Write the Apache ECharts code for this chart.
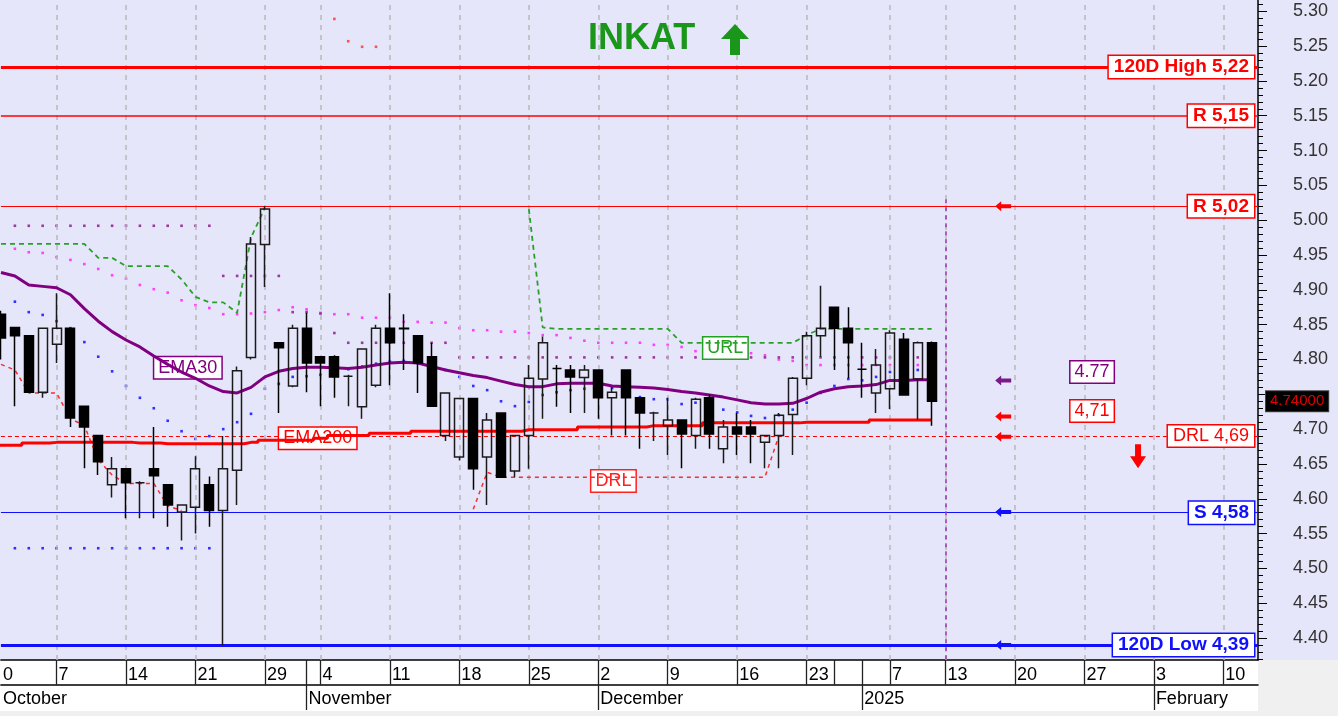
<!DOCTYPE html>
<html><head><meta charset="utf-8">
<script src="https://cdn.jsdelivr.net/npm/echarts@6/dist/echarts.min.js"></script>
<style>html,body{margin:0;padding:0;background:#f0f0f0}#c{width:1338px;height:716px}</style>
</head><body><div id="c"></div>
<script>
// ---------- DATA ----------
// trading-day slots (index 0 = 2024-09-30)
const days = ['2024-09-30','2024-10-01','2024-10-02','2024-10-03','2024-10-04',
'2024-10-07','2024-10-08','2024-10-09','2024-10-10','2024-10-11',
'2024-10-14','2024-10-15','2024-10-16','2024-10-17','2024-10-18',
'2024-10-21','2024-10-22','2024-10-23','2024-10-24','2024-10-25',
'2024-10-29','2024-10-30','2024-10-31','2024-11-01',
'2024-11-04','2024-11-05','2024-11-06','2024-11-07','2024-11-08',
'2024-11-11','2024-11-12','2024-11-13','2024-11-14','2024-11-15',
'2024-11-18','2024-11-19','2024-11-20','2024-11-21','2024-11-22',
'2024-11-25','2024-11-26','2024-11-27','2024-11-28','2024-11-29',
'2024-12-02','2024-12-03','2024-12-04','2024-12-05','2024-12-06',
'2024-12-09','2024-12-10','2024-12-11','2024-12-12','2024-12-13',
'2024-12-16','2024-12-17','2024-12-18','2024-12-19','2024-12-20',
'2024-12-23','2024-12-27','2024-12-30','2024-12-31',
'2025-01-02','2025-01-03',
'2025-01-07','2025-01-08','2025-01-09','2025-01-10',
'2025-01-13','2025-01-14','2025-01-15','2025-01-16','2025-01-17',
'2025-01-20','2025-01-21','2025-01-22','2025-01-23','2025-01-24',
'2025-01-27','2025-01-28','2025-01-29','2025-01-30','2025-01-31',
'2025-02-03','2025-02-04','2025-02-05','2025-02-06','2025-02-07',
'2025-02-10','2025-02-11','2025-02-12'];

// [open, high, low, close]
const candles = [null,
[4.865,4.870,4.800,4.831],[4.846,4.846,4.733,4.834],[4.834,4.834,4.753,4.753],[4.753,4.845,4.745,4.845],
[4.822,4.895,4.795,4.845],[4.845,4.845,4.703,4.716],[4.733,4.733,4.644,4.703],[4.691,4.691,4.634,4.653],[4.620,4.660,4.602,4.643],
[4.643,4.643,4.572,4.623],[4.623,4.625,4.572,4.623],[4.643,4.703,4.572,4.633],[4.620,4.620,4.560,4.591],[4.581,4.591,4.540,4.591],
[4.588,4.661,4.550,4.643],[4.620,4.632,4.560,4.583],[4.583,4.690,4.390,4.643],[4.641,4.790,4.591,4.784],[4.803,4.976,4.800,4.966],
[4.965,5.020,4.904,5.016],[4.824,4.824,4.723,4.817],[4.762,4.850,4.760,4.845],[4.845,4.867,4.753,4.795],
[4.804,4.804,4.733,4.795],[4.804,4.806,4.745,4.775],[4.776,4.778,4.733,4.776],[4.732,4.815,4.715,4.815],[4.763,4.850,4.760,4.845],
[4.845,4.895,4.763,4.824],[4.845,4.865,4.785,4.844],[4.834,4.834,4.752,4.795],[4.804,4.824,4.733,4.733],[4.691,4.752,4.683,4.752],
[4.660,4.745,4.655,4.744],[4.744,4.745,4.613,4.643],[4.660,4.723,4.591,4.713],[4.723,4.723,4.631,4.631],[4.640,4.691,4.631,4.691],
[4.691,4.792,4.643,4.773],[4.772,4.833,4.715,4.824],[4.787,4.792,4.732,4.787],[4.785,4.792,4.723,4.775],[4.774,4.792,4.723,4.785],
[4.785,4.785,4.715,4.745],[4.745,4.760,4.691,4.753],[4.785,4.785,4.691,4.745],[4.745,4.745,4.672,4.723],[4.723,4.725,4.683,4.723],
[4.705,4.745,4.663,4.713],[4.713,4.713,4.644,4.693],[4.691,4.745,4.672,4.743],[4.745,4.750,4.672,4.693],[4.672,4.713,4.651,4.703],
[4.703,4.723,4.663,4.693],[4.703,4.713,4.651,4.693],[4.681,4.691,4.644,4.691],[4.691,4.723,4.644,4.720],[4.721,4.775,4.663,4.773],
[4.773,4.840,4.763,4.834],[4.834,4.906,4.804,4.845],[4.875,4.875,4.785,4.845],[4.845,4.875,4.773,4.824],
[4.786,4.824,4.745,4.786],[4.752,4.815,4.723,4.792],
[4.758,4.842,4.729,4.838],[4.829,4.838,4.749,4.749],[4.772,4.826,4.714,4.824],[4.824,4.826,4.705,4.740]];

const ema30 = [null,4.925,4.920,4.907,4.905,4.903,4.893,4.873,4.855,4.840,4.828,
4.818,4.805,4.793,4.782,4.773,4.762,4.754,4.752,4.760,4.775,
4.783,4.787,4.789,4.789,4.788,4.787,4.789,4.792,4.795,4.796,
4.795,4.790,4.785,4.781,4.777,4.774,4.769,4.764,4.761,4.761,
4.765,4.766,4.766,4.766,4.762,4.761,4.760,4.759,4.757,4.754,
4.752,4.749,4.746,4.742,4.738,4.736,4.736,4.737,4.744,4.753,
4.758,4.761,4.762,4.764,4.770,4.770,4.771,4.771];

const ema200 = [null,4.677,4.677,4.680,4.680,4.681,4.681,4.681,4.681,4.681,4.681,
4.680,4.680,4.679,4.679,4.679,4.679,4.679,4.679,4.681,4.684,
4.684,4.684,4.684,4.687,4.691,4.691,4.691,4.694,4.694,4.694,
4.697,4.697,4.697,4.697,4.697,4.697,4.697,4.697,4.699,4.699,
4.699,4.699,4.703,4.703,4.703,4.703,4.703,4.705,4.705,4.705,
4.705,4.709,4.709,4.709,4.709,4.709,4.709,4.709,4.710,4.710,
4.710,4.710,4.710,4.713,4.713,4.713,4.713,4.713];

const urlLine = [null,4.966,4.966,4.966,4.966,4.966,4.966,4.966,4.946,4.946,4.934,
4.934,4.934,4.934,4.915,4.890,4.882,4.882,4.867,4.975,5.018,
null,null,null,null,null,null,null,null,null,null,
null,null,null,null,null,null,null,null,5.016,4.846,
4.844,4.844,4.844,4.844,4.844,4.844,4.844,4.844,4.844,4.824,
4.824,4.824,4.824,4.824,4.824,4.824,4.824,4.824,4.835,4.844,
4.844,4.844,4.844,4.844,4.844,4.844,4.844,4.844];

const drlLine = [null,4.793,4.785,4.752,4.752,4.752,4.715,4.705,4.656,4.634,4.622,
4.622,4.622,4.590,4.583,null,null,null,null,null,null,
null,null,null,null,null,null,null,null,null,null,
null,null,null,null,4.585,4.638,4.631,4.631,4.631,4.631,
4.631,4.631,4.631,4.631,4.631,4.631,4.631,4.631,4.631,4.631,
4.631,4.631,4.631,4.631,4.631,4.631,4.690];

const pinkDots = [null,null,4.959,4.954,4.953,4.947,4.943,4.937,4.930,4.921,4.916,
4.907,4.901,4.896,4.885,4.878,4.874,4.865,4.865,4.866,4.868,
4.871,4.875,4.872,4.867,4.865,4.865,4.860,4.860,4.860,4.854,
4.854,4.853,4.853,4.845,4.842,4.842,4.840,4.840,4.838,4.835,
4.835,4.831,4.827,4.824,4.824,4.824,4.824,4.821,4.821,4.818,
4.812,4.812,4.812,4.812,4.809,4.806,4.800,4.798,4.792,4.792,
4.792,4.792,4.792,4.792,4.792,4.792,4.792,4.792];

const purpleDots = [null,null,4.992,4.992,4.992,4.992,4.992,4.992,4.992,4.992,4.992,
4.992,4.992,4.992,4.992,4.992,4.992,4.920,4.920,4.920,4.920,
4.920,4.868,4.868,4.866,4.838,4.824,4.824,4.824,4.824,4.824,
4.824,4.824,4.824,4.803,4.803,4.803,4.803,4.803,4.803,4.803,
4.803,4.803,4.803,4.803,4.803,4.803,4.803,4.803,4.803,4.803,
4.803,4.803,4.803,4.803,4.803,4.803,4.803,4.803,4.803,4.803,
4.803,4.803,4.803,4.803,4.803,4.803,4.803,4.803];

const blueDots = [null,null,4.883,4.868,4.864,4.855,4.845,4.825,4.804,4.783,4.762,
4.745,4.730,4.712,4.697,4.686,4.690,4.700,4.710,4.722,4.758,
4.765,4.775,4.776,4.778,4.782,4.786,4.790,4.794,4.797,4.798,
4.795,4.790,4.785,4.775,4.762,4.756,4.740,4.733,4.739,4.749,
4.753,4.756,4.758,4.759,4.759,4.752,4.746,4.743,4.743,4.736,
4.738,4.733,4.728,4.724,4.719,4.716,4.720,4.728,4.738,4.752,
4.762,4.772,4.770,4.775,4.782,4.778,4.785,4.778];

const blueLowDots = [null,null,4.529,4.529,4.529,4.529,4.529,4.529,4.529,4.529,4.529,
4.529,4.529,4.529,4.529,4.529,4.529];

const redTopDots = [null,null,null,null,null,null,null,null,null,null,null,
null,null,null,null,null,null,null,null,null,null,
null,null,null,null,5.289,5.257,5.249,5.249];

// horizontal levels
const levelValues = [5.22, 5.15, 5.02, 4.69, 4.58, 4.39];
const levelLabels = ['120D High 5,22', 'R 5,15', 'R 5,02', 'DRL 4,69', 'S 4,58', '120D Low 4,39'];
const lastPrice = 4.74;
const lastPriceLabel = '4.74000';

// axis ticks and labels
const yTicks = [4.40,4.45,4.50,4.55,4.60,4.65,4.70,4.75,4.80,4.85,4.90,4.95,5.00,5.05,5.10,5.15,5.20,5.25,5.30];
const yLabels = [4.40,4.45,4.50,4.55,4.60,4.65,4.70,4.80,4.85,4.90,4.95,5.00,5.05,5.10,5.15,5.20,5.25,5.30];
const weekTickIdx = [0,5,10,15,20,23,24,29,34,39,44,49,54,59,61,63,65,69,74,79,84,89];
const weekLabelIdx = [1,5,10,15,20,24,29,34,39,44,49,54,59,65,69,74,79,84,89];
const weekLabelText = ['0','7','14','21','29','4','11','18','25','2','9','16','23','7','13','20','27','3','10'];
const gridWeekIdx = [5,10,15,20,24,29,34,39,44,49,54,59,65,69,74,79,84,89];
const monthTickIdx = [23,44,63,84];
const monthLabelIdx = [1,23,44,63,84];
const monthLabelText = ['October','November','December','2025','February'];
const todayIdx = 69;

// annotation positions (slot, value)
const arrowNotes = [[73.15,5.020,'#ff0000'],[73.15,4.770,'#7a1a8a'],[73.15,4.718,'#ff0000'],[73.15,4.689,'#ff0000'],[73.15,4.581,'#1010ff'],[73.15,4.390,'#1010ff']];
const tagNotes = [
  [14.45,4.788,'EMA30','#800080'],
  [23.8,4.687,'EMA200','#ff0000'],
  [53.15,4.8165,'URL','#22a022'],
  [45.09,4.6255,'DRL','#ff2020'],
  [79.55,4.782,'4.77','#800080'],
  [79.55,4.726,'4,71','#ff0000']
];
const downArrow = [82.86, 4.661];

// ---------- CHART ----------
const FONT = '"Liberation Sans", Arial, sans-serif';
const YMIN = 4.3685, YMAX = 5.3162;
const XMIN = 0.993, XMAX = 91.496;
const minorTicks = [];
for (let k = 437; k <= 531; k++) minorTicks.push(k / 100);

const levelStyle = [
  {c:'#ff0000', w:3, t:'solid', b:'bold'},
  {c:'#ff0000', w:1.5, t:'solid', b:'bold'},
  {c:'#ff0000', w:1.2, t:'solid', b:'bold'},
  {c:'#ff0000', w:1.2, t:[4,3], b:'normal'},
  {c:'#1010ff', w:1.2, t:'solid', b:'bold'},
  {c:'#1010ff', w:3, t:'solid', b:'bold'}
];

const pairs = arr => arr.map((v, i) => [i, v == null ? '-' : v]);
const candleData = [];
candles.forEach((c, i) => { if (c) candleData.push([i, c[0], c[3], c[2], c[1]]); });

function dotSeries(name, data, color) {
  return {
    name, type: 'line', data: pairs(data), xAxisIndex: 0, yAxisIndex: 0,
    symbol: 'rect', symbolSize: 2.6, showSymbol: true, showAllSymbol: true,
    lineStyle: {opacity: 0}, itemStyle: {color}, z: 3, silent: true
  };
}

const levelMarks = levelValues.map((v, i) => ({
  yAxis: v,
  lineStyle: {color: levelStyle[i].c, width: levelStyle[i].w, type: levelStyle[i].t},
  label: {
    show: true, position: 'insideEnd', distance: 4, formatter: levelLabels[i],
    color: levelStyle[i].c, fontWeight: levelStyle[i].b, fontSize: levelStyle[i].b === 'bold' ? 19 : 18, fontFamily: FONT,
    backgroundColor: '#ffffff', borderColor: levelStyle[i].c, borderWidth: 1.5, padding: [2, 5, 1, 5]
  }
}));
levelMarks.push({
  yAxis: lastPrice, lineStyle: {color: 'rgba(0,0,0,0)', width: 1, opacity: 1},
  label: {show: true, position: 'end', distance: 8, formatter: lastPriceLabel, color: '#e00000', opacity: 1,
    fontSize: 15, fontFamily: FONT, backgroundColor: '#000000', borderColor: '#444', borderWidth: 1, padding: [3, 4, 2, 4]}
});

const gridMarks = gridWeekIdx.map(v => ({xAxis: v}));

const pointMarks = [];
arrowNotes.forEach(a => pointMarks.push({
  coord: [a[0], a[1]], symbol: 'path://M0,5 L6,0 L6,3 L16,3 L16,7 L6,7 L6,10 Z',
  symbolSize: [16, 10], itemStyle: {color: a[2]}, label: {show: false}
}));
pointMarks.push({
  coord: downArrow, symbol: 'path://M5,0 L11,0 L11,12 L16,12 L8,24 L0,12 L5,12 Z',
  symbolSize: [16, 24], itemStyle: {color: '#ff0000'}, label: {show: false}
});
tagNotes.forEach(t => pointMarks.push({
  coord: [t[0], t[1]], symbol: 'rect', symbolSize: 1, itemStyle: {color: 'rgba(0,0,0,0)'},
  label: {show: true, position: 'inside', formatter: t[2], color: t[3], fontSize: 18, fontFamily: FONT,
    backgroundColor: '#ffffff', borderColor: t[3], borderWidth: 1.5, padding: [2, 4, 1, 4]}
}));

const weekFmt = v => { const k = weekLabelIdx.indexOf(Math.round(v)); return k >= 0 ? weekLabelText[k] : ''; };
const monthFmt = v => { const k = monthLabelIdx.indexOf(Math.round(v)); return k >= 0 ? monthLabelText[k] : ''; };

const chart = echarts.init(document.getElementById('c'), null, {renderer: 'canvas'});
chart.setOption({
  animation: false,
  backgroundColor: '#f0f0f0',
  textStyle: {fontFamily: FONT},
  graphic: [
    {type: 'rect', shape: {x: 0, y: 0, width: 1338, height: 660}, style: {fill: '#e6e6fa'}, z: -10, silent: true},
    {type: 'rect', shape: {x: 0, y: 660, width: 1258, height: 51}, style: {fill: '#ffffff'}, z: -10, silent: true},
    {type: 'text', x: 588, y: 21, style: {text: 'INKAT', font: 'bold 36px "Liberation Sans", Arial', fill: '#1a961a'}, z: 20, silent: true},
    {type: 'polygon', shape: {points: [[735,24],[749,39],[740,39],[740,55],[730,55],[730,39],[721,39]]}, style: {fill: '#1a961a'}, z: 20, silent: true}
  ],
  grid: [
    {left: 0, right: 80, top: 0, bottom: 56, containLabel: false},
    {left: 0, right: 80, top: 0, bottom: 56, containLabel: false}
  ],
  xAxis: [
    {type: 'value', gridIndex: 0, min: XMIN, max: XMAX, position: 'bottom',
      axisLine: {show: true, onZero: false, lineStyle: {color: '#000', width: 1.5}},
      axisTick: {show: true, customValues: weekTickIdx, length: 25, lineStyle: {color: '#222', width: 1.3}},
      axisLabel: {show: true, customValues: weekLabelIdx, align: 'left', margin: 6, padding: [0, 0, 0, 2],
        color: '#000', fontSize: 18, fontFamily: FONT, formatter: weekFmt},
      splitLine: {show: false}},
    {type: 'value', gridIndex: 0, min: XMIN, max: XMAX, position: 'bottom', offset: 25,
      axisLine: {show: true, onZero: false, lineStyle: {color: '#000', width: 1.5}},
      axisTick: {show: true, customValues: monthTickIdx, length: 25, lineStyle: {color: '#222', width: 1.3}},
      axisLabel: {show: true, customValues: monthLabelIdx, align: 'left', margin: 5, padding: [0, 0, 0, 2],
        color: '#000', fontSize: 18, fontFamily: FONT, formatter: monthFmt},
      splitLine: {show: false}},
    {type: 'value', gridIndex: 1, min: XMIN, max: XMAX, show: false}
  ],
  yAxis: [
    {type: 'value', gridIndex: 0, min: YMIN, max: YMAX, position: 'right',
      axisLine: {show: true, lineStyle: {color: '#000', width: 1.5}},
      axisTick: {show: true, customValues: yTicks, length: 9, lineStyle: {color: '#000', width: 1}},
      axisLabel: {show: true, customValues: yLabels, margin: 35, color: '#333', fontSize: 18, fontFamily: FONT,
        formatter: v => v.toFixed(2)},
      splitLine: {show: false}},
    {type: 'value', gridIndex: 1, min: YMIN, max: YMAX, position: 'right',
      axisLine: {show: false},
      axisTick: {show: true, customValues: minorTicks, length: 5, lineStyle: {color: '#000', width: 1}},
      axisLabel: {show: false}, splitLine: {show: false}}
  ],
  series: [
    {name: 'grid', type: 'line', xAxisIndex: 0, yAxisIndex: 0, data: [[1, 4.0]], showSymbol: false,
      lineStyle: {opacity: 0}, silent: true, z: 1,
      markLine: {silent: true, symbol: ['none', 'none'], animation: false,
        label: {show: false},
        lineStyle: {color: '#b8b8b8', width: 1.5, type: [5, 5]},
        data: gridMarks}},
    {name: 'levels', type: 'line', xAxisIndex: 0, yAxisIndex: 0, data: [[1, 4.0]], showSymbol: false,
      lineStyle: {opacity: 0}, silent: true, z: 4,
      markLine: {silent: true, symbol: ['none', 'none'], animation: false,
        data: levelMarks.concat([[
          {coord: [todayIdx, 5.03], lineStyle: {color: '#a030b0', width: 1.5, type: [4, 4]}, label: {show: false}},
          {coord: [todayIdx, YMIN]}
        ]])}},
    dotSeries('pink', pinkDots, '#ff40ff'),
    dotSeries('purpleDots', purpleDots, '#9a3a9a'),
    dotSeries('blue', blueDots, '#3030ff'),
    dotSeries('blueLow', blueLowDots, '#3030ff'),
    dotSeries('redTop', redTopDots, '#ff5050'),
    {name: 'URL', type: 'line', data: pairs(urlLine), showSymbol: false, connectNulls: false,
      lineStyle: {color: '#2aa02a', width: 1.8, type: [5, 4]}, z: 5, silent: true},
    {name: 'DRLtrail', type: 'line', data: pairs(drlLine), showSymbol: false, connectNulls: false,
      lineStyle: {color: '#ff2a2a', width: 1.5, type: [4, 4]}, z: 5, silent: true},
    {name: 'EMA200', type: 'line', data: pairs(ema200), showSymbol: false, step: 'middle',
      lineStyle: {color: '#ff0000', width: 3}, z: 6, silent: true},
    {name: 'EMA30', type: 'line', data: pairs(ema30), showSymbol: false,
      lineStyle: {color: '#800080', width: 3}, z: 6, silent: true},
    {name: 'price', type: 'candlestick', data: candleData, encode: {x: 0, y: [1, 2, 3, 4]},
      barWidth: 9.5, z: 8, silent: true,
      itemStyle: {color: 'rgba(0,0,0,0)', color0: '#000000', borderColor: '#1a1a1a', borderColor0: '#000000', borderWidth: 1.5}},
    {name: 'notes', type: 'line', xAxisIndex: 0, yAxisIndex: 0, data: [[1, 4.0]], showSymbol: false,
      lineStyle: {opacity: 0}, silent: true, z: 12,
      markPoint: {silent: true, animation: false, data: pointMarks}}
  ]
});
</script>
</body></html>
